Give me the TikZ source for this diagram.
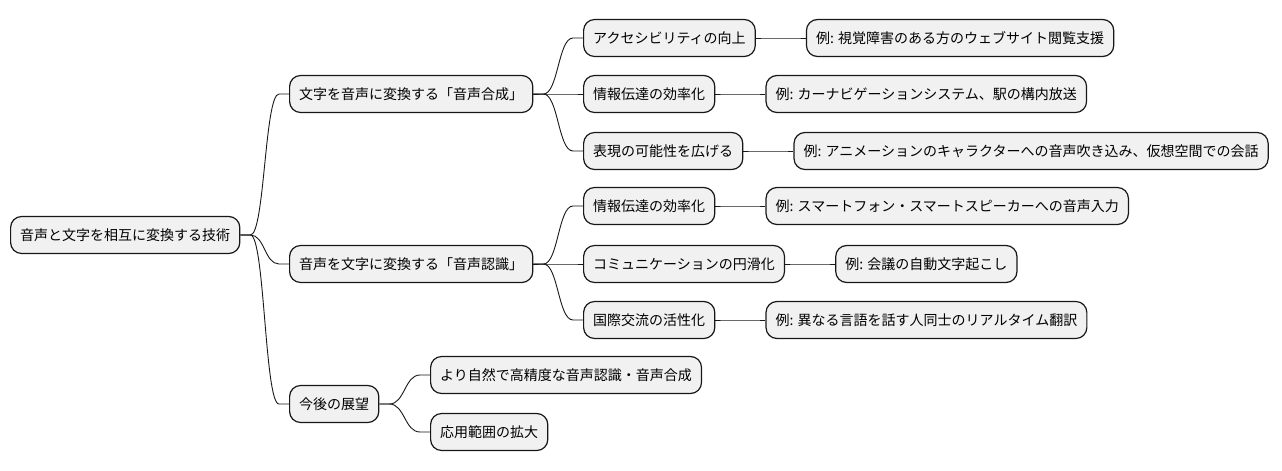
\documentclass[tikz,border=0pt]{standalone}
\usepackage{fontspec}
\setmainfont{Noto Sans CJK JP}
\usepackage{xcolor}
\usepackage{tikz}
\usetikzlibrary{calc,positioning}
\definecolor{boxfill}{HTML}{F1F1F1}
\definecolor{boxline}{HTML}{181818}
\tikzset{
  topic/.style={draw=boxline, fill=boxfill, line width=1.2pt, rounded corners=11pt,
    minimum height=37pt, inner xsep=9.6pt, inner ysep=0pt, anchor=west,
    font=\fontsize{14pt}{16pt}\selectfont},  % every box of the map
  branch/.style={draw=boxline, line width=0.9pt}
}
\newcommand{\Branch}[2]{% #1=parent node, #2=child node
  \path (#1.east) ++(10,0) coordinate (bs) (#2.west) ++(-10,0) coordinate (be);
  \path ($(bs)!0.5!(be)$) coordinate (bm);
  \draw[branch] (#1.east) -- (bs) .. controls (bm |- bs) and (bm |- be) .. (be) -- (#2.west);
}

\begin{document}
\begin{tikzpicture}[x=1pt, y=-1pt]
  \useasboundingbox (0,0) rectangle (1282,471);
  % root and main topics
  \node[topic] (root) at (10,235) {音声と文字を相互に変換する技術};
  \node[topic] (synth) at (289,94) {文字を音声に変換する「音声合成」};
  \node[topic] (recog) at (289,264) {音声を文字に変換する「音声認識」};
  \node[topic] (future) at (289,404) {今後の展望};
  % synthesis
  \node[topic] (sA) at (583,38) {アクセシビリティの向上};
  \node[topic] (sB) at (583,94) {情報伝達の効率化};
  \node[topic] (sC) at (583,151) {表現の可能性を広げる};
  \node[topic, right=50pt of sA] (sAx) {例: 視覚障害のある方のウェブサイト閲覧支援};
  \node[topic, right=50pt of sB] (sBx) {例: カーナビゲーションシステム、駅の構内放送};
  \node[topic, right=50pt of sC] (sCx) {例: アニメーションのキャラクターへの音声吹き込み、仮想空間での会話};
  % recognition
  \node[topic] (rA) at (583,206) {情報伝達の効率化};
  \node[topic] (rB) at (583,264) {コミュニケーションの円滑化};
  \node[topic] (rC) at (583,320) {国際交流の活性化};
  \node[topic, right=50pt of rA] (rAx) {例: スマートフォン・スマートスピーカーへの音声入力};
  \node[topic, right=50pt of rB] (rBx) {例: 会議の自動文字起こし};
  \node[topic, right=50pt of rC] (rCx) {例: 異なる言語を話す人同士のリアルタイム翻訳};
  % outlook
  \node[topic] (fA) at (430,375) {より自然で高精度な音声認識・音声合成};
  \node[topic] (fB) at (430,432) {応用範囲の拡大};
  % connectors
  \foreach \p/\c in {root/synth, root/recog, root/future,
      synth/sA, synth/sB, synth/sC, sA/sAx, sB/sBx, sC/sCx,
      recog/rA, recog/rB, recog/rC, rA/rAx, rB/rBx, rC/rCx,
      future/fA, future/fB}{
    \Branch{\p}{\c}
  }
\end{tikzpicture}
\end{document}
